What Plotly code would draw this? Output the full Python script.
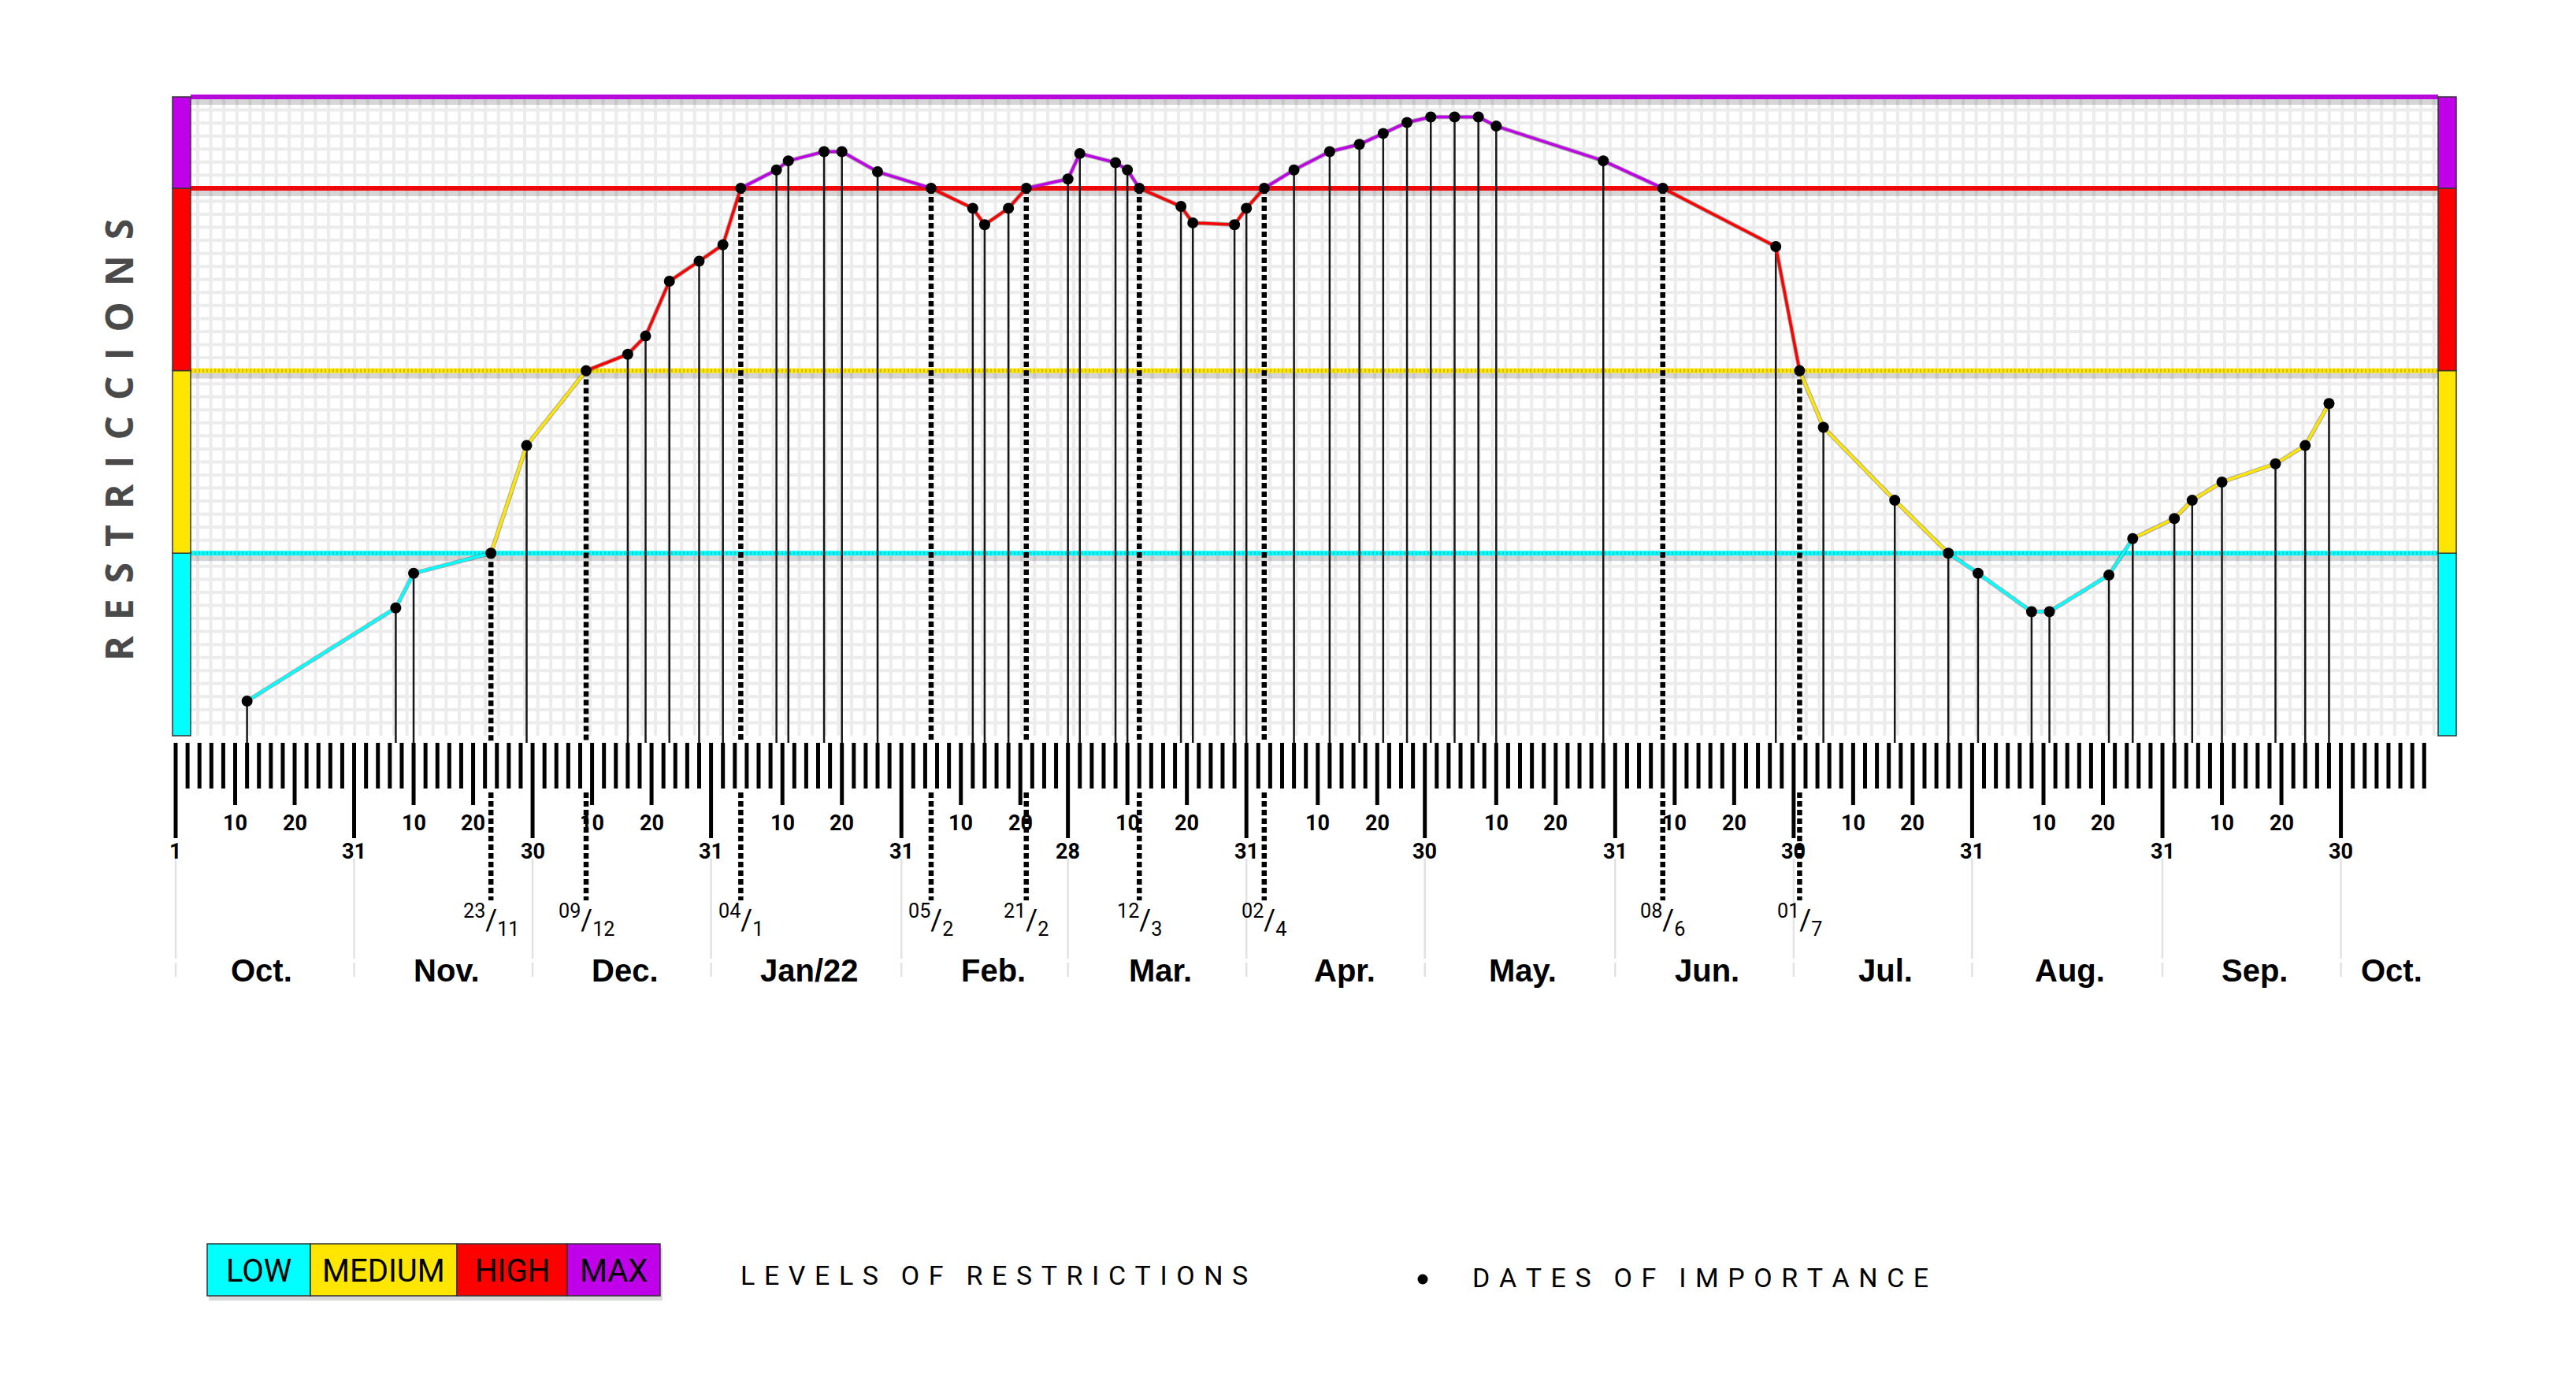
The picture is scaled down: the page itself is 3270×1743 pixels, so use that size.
import numpy as np
import pandas as pd
import plotly.graph_objects as go

# ---------------- data ----------------
dates = ["2021-10-13", "2021-11-07", "2021-11-10", "2021-11-23", "2021-11-29",
         "2021-12-09", "2021-12-16", "2021-12-19", "2021-12-23", "2021-12-28", "2022-01-01",
         "2022-01-04", "2022-01-10", "2022-01-12", "2022-01-18", "2022-01-21", "2022-01-27",
         "2022-02-05", "2022-02-12", "2022-02-14", "2022-02-18", "2022-02-21", "2022-02-28",
         "2022-03-02", "2022-03-08", "2022-03-10", "2022-03-12", "2022-03-19", "2022-03-21",
         "2022-03-28", "2022-03-30", "2022-04-02", "2022-04-07", "2022-04-13", "2022-04-18",
         "2022-04-22", "2022-04-26", "2022-04-30", "2022-05-04", "2022-05-08", "2022-05-11",
         "2022-05-29", "2022-06-08", "2022-06-27", "2022-07-01", "2022-07-05", "2022-07-17",
         "2022-07-26", "2022-07-31", "2022-08-09", "2022-08-12", "2022-08-22", "2022-08-26",
         "2022-09-02", "2022-09-05", "2022-09-10", "2022-09-19", "2022-09-24", "2022-09-28"]
levels = [0.19, 0.70, 0.89, 1.00, 1.59,
          2.00, 2.09, 2.19, 2.49, 2.60, 2.69,
          3.00, 3.10, 3.15, 3.20, 3.20, 3.09,
          3.00, 2.89, 2.80, 2.89, 3.00, 3.05,
          3.19, 3.14, 3.10, 3.00, 2.90, 2.81,
          2.80, 2.89, 3.00, 3.10, 3.20, 3.24,
          3.30, 3.36, 3.39, 3.39, 3.39, 3.34,
          3.15, 3.00, 2.68, 2.00, 1.69, 1.29,
          1.00, 0.89, 0.68, 0.68, 0.88, 1.08,
          1.19, 1.29, 1.39, 1.49, 1.59, 1.82]

key_dates = ["2021-11-23", "2021-12-09", "2022-01-04", "2022-02-05", "2022-02-21",
             "2022-03-12", "2022-04-02", "2022-06-08", "2022-07-01"]
key_day = ["23", "09", "04", "05", "21", "12", "02", "08", "01"]
key_month = ["11", "12", "1", "2", "2", "3", "4", "6", "7"]

level_names = ["LOW", "MEDIUM", "HIGH", "MAX"]
level_colors = ["#00FFFF", "#FFE600", "#FF0000", "#C000E8"]
level_bounds = [0, 1, 2, 3, 3.5]

month_names = ["Oct.", "Nov.", "Dec.", "Jan/22", "Feb.", "Mar.", "Apr.", "May.",
               "Jun.", "Jul.", "Aug.", "Sep.", "Oct."]
ruler_start = "2021-10-01"
ruler_end = "2022-10-14"

# ---------------- geometry ----------------
W, H = 3270, 1743
OFF = 8                      # default body margin of the html page
FW, FH = W - 2 * OFF, H - 2 * OFF
X_DAY0 = 223.0               # screen px of 2021-10-01
PX_PER_DAY = 7.551
Y_LEVEL0 = 934.0             # screen px of level 0
PX_PER_LEVEL = 231.7
PLOT_L, PLOT_R = 242, 3095
D0 = pd.Timestamp(ruler_start)


def xd(px):
    return D0 + pd.Timedelta(days=(px - X_DAY0) / PX_PER_DAY)


def yl(py):
    return (Y_LEVEL0 - py) / PX_PER_LEVEL


def xp(px):
    return (px - OFF) / FW


def yp(py):
    return 1 - (py - OFF) / FH


def ds(t):
    return pd.Timestamp(t).strftime("%Y-%m-%d %H:%M:%S")


NARROW = "Liberation Sans Narrow, Arial Narrow, Roboto, sans-serif"
BOLDF = "Liberation Sans, Arial, sans-serif"

fig = go.Figure()


def add_segments(segs, color, width, dash=None):
    xs, ys = [], []
    for (xa, ya, xb, yb) in segs:
        xs += [ds(xa), ds(xb), None]
        ys += [ya, yb, None]
    fig.add_trace(go.Scatter(x=xs, y=ys, mode="lines",
                             line=dict(color=color, width=width, dash=dash),
                             hoverinfo="skip", showlegend=False))


# ---- background grid ----
top = level_bounds[-1]
vgrid = [(xd(px), 0, xd(px), top) for px in np.arange(PLOT_L + 9, PLOT_R - 4, 16.6)]
hgrid = [(xd(PLOT_L), h, xd(PLOT_R), h) for h in np.arange(1 / 14, top, 1 / 14)]
add_segments(vgrid, "#ececec", 4)
add_segments(hgrid, "#ececec", 4)

# ---- level lines ----
for b, c in zip(level_bounds[1:], level_colors):
    add_segments([(xd(PLOT_L), b - 5 / PX_PER_LEVEL, xd(PLOT_R), b - 5 / PX_PER_LEVEL)],
                 "rgba(0,0,0,0.16)", 10)
    add_segments([(xd(PLOT_L), b, xd(PLOT_R), b)], c, 6)
    add_segments([(xd(PLOT_L), b, xd(PLOT_R), b)], "rgba(90,90,90,0.3)", 4, "2px,3px")

# ---- stems ----
dts = [pd.Timestamp(d) for d in dates]
keyset = set(pd.Timestamp(d) for d in key_dates)
solid = [(t, v, t, yl(943)) for t, v in zip(dts, levels) if t not in keyset]
add_segments(solid, "#161616", 2.5)
dotted = []
for t, v in zip(dts, levels):
    if t in keyset:
        dotted.append((t, v, t, yl(943)))
        dotted.append((t, yl(1006), t, yl(1143)))
add_segments(dotted, "#000000", 6.5, "7px,4px")

# ---- data line, coloured by level band ----
under = [(dts[i], levels[i], dts[i + 1], levels[i + 1]) for i in range(len(dts) - 1)]
add_segments(under, "rgba(70,70,70,0.45)", 5.5)
for band, col in enumerate(level_colors):
    segs = []
    for i in range(len(dts) - 1):
        mid = (levels[i] + levels[i + 1]) / 2
        if min(int(mid), 3) == band:
            segs.append((dts[i], levels[i], dts[i + 1], levels[i + 1]))
    add_segments(segs, col, 3.5)

fig.add_trace(go.Scatter(x=[ds(t) for t in dts], y=levels, mode="markers",
                         marker=dict(color="#000000", size=14),
                         hoverinfo="skip", showlegend=False))

# ---- ruler ----
month_starts = pd.date_range(ruler_start, "2022-10-01", freq="MS")
month_ends = [s - pd.Timedelta(days=1) for s in month_starts[1:]]
n_days = (pd.Timestamp(ruler_end) - D0).days
kind = {d: "short" for d in range(0, n_days + 1, 2)}
kind[0] = "long"
long_labels = {0: "1"}
for me in month_ends:
    d = ((me - D0).days // 2) * 2
    kind[d] = "long"
    long_labels[d] = str(me.day)
med_labels = {}
for s in month_starts[:-1]:
    for dom in (10, 20):
        t = s + pd.Timedelta(days=dom - 1)
        d = int(np.ceil((t - D0).days / 2) * 2)
        kind[d] = "medium"
        med_labels[d] = str(dom)
tick_end = {"short": 1001, "medium": 1022, "long": 1064}
ticks = [(D0 + pd.Timedelta(days=d), yl(943), D0 + pd.Timedelta(days=d), yl(tick_end[k]))
         for d, k in kind.items()]
add_segments(ticks, "#000000", 5)

seps = []
for d in long_labels:
    t = D0 + pd.Timedelta(days=d)
    seps.append((t, yl(1090), t, yl(1217)))
    seps.append((t, yl(1222), t, yl(1240)))
add_segments(seps, "#e2e2e2", 2.5)

ann = []
for d, lab in med_labels.items():
    ann.append(dict(x=ds(D0 + pd.Timedelta(days=d)), y=yl(1045), text=lab,
                    font=dict(family=NARROW, size=27, color="#000", weight="bold")))
for d, lab in long_labels.items():
    ann.append(dict(x=ds(D0 + pd.Timedelta(days=d)), y=yl(1081), text=lab,
                    font=dict(family=NARROW, size=27, color="#000", weight="bold")))
for kd, a, b in zip(key_dates, key_day, key_month):
    ann.append(dict(x=kd, y=yl(1168), text=f"<sup>{a}</sup>/<sub>{b}</sub>",
                    font=dict(family=NARROW, size=36, color="#000")))
for i, name in enumerate(month_names):
    if i < len(month_starts) - 1:
        t = month_starts[i] + pd.Timedelta(days=14.5)
    else:
        t = month_starts[i] + pd.Timedelta(days=7.5)
    ann.append(dict(x=ds(t), y=yl(1232), text=name,
                    font=dict(family=BOLDF, size=40, color="#000", weight="bold")))
for a in ann:
    a.update(xref="x", yref="y", showarrow=False, xanchor="center", yanchor="middle")

# ---- side colour bars ----
shapes = []
for x0, x1 in ((219, 242), (3095, 3118)):
    for i, c in enumerate(level_colors):
        shapes.append(dict(type="rect", xref="paper", yref="y", x0=xp(x0), x1=xp(x1),
                           y0=level_bounds[i], y1=level_bounds[i + 1], fillcolor=c,
                           line=dict(color="#333333", width=1.5), layer="above"))

# ---- legend ----
paper_ann = []
leg_edges = [263, 394, 580, 720, 838]
shapes.append(dict(type="rect", xref="paper", yref="paper", x0=xp(leg_edges[0] + 2),
                   x1=xp(leg_edges[-1] + 3), y0=yp(1651), y1=yp(1584),
                   fillcolor="rgba(0,0,0,0.15)", line=dict(width=0), layer="above"))
for i, (name, c) in enumerate(zip(level_names, level_colors)):
    shapes.append(dict(type="rect", xref="paper", yref="paper", x0=xp(leg_edges[i]),
                       x1=xp(leg_edges[i + 1]), y0=yp(1645), y1=yp(1579), fillcolor=c,
                       line=dict(color="#333333", width=1.5), layer="above"))
    paper_ann.append(dict(x=xp((leg_edges[i] + leg_edges[i + 1]) / 2), y=yp(1613), text=name,
                          font=dict(family=NARROW, size=40, color="#000")))


def spaced(s):
    return "\u2002\u2004".join("\u2004".join(w) for w in s.split(" "))


paper_ann.append(dict(x=xp(1262), y=yp(1619), text=spaced("LEVELS OF RESTRICTIONS"),
                      font=dict(family=NARROW, size=34, color="#000")))
paper_ann.append(dict(x=xp(2158), y=yp(1622), text=spaced("DATES OF IMPORTANCE"),
                      font=dict(family=NARROW, size=34, color="#000")))
fig.add_trace(go.Scatter(x=[ds(xd(1806))], y=[yl(1624)], mode="markers",
                         marker=dict(color="#000", size=13), hoverinfo="skip", showlegend=False))

paper_ann.append(dict(x=xp(150), y=yp(559), textangle=-90,
                      text="\u2005\u2006".join("RESTRICCIONS"),
                      font=dict(family="Open Sans, sans-serif", size=48, color="#4a4a4a", weight="bold")))
for a in paper_ann:
    a.update(xref="paper", yref="paper", showarrow=False, xanchor="center", yanchor="middle")

fig.update_layout(
    width=FW, height=FH, margin=dict(l=0, r=0, t=0, b=0, pad=0),
    paper_bgcolor="white", plot_bgcolor="white", showlegend=False, hovermode=False,
    xaxis=dict(type="date", range=[ds(xd(OFF)), ds(xd(W - OFF))], visible=False, fixedrange=True),
    yaxis=dict(range=[yl(H - OFF), yl(OFF)], visible=False, fixedrange=True),
    shapes=shapes, annotations=ann + paper_ann,
)
fig.write_html("out.html")
